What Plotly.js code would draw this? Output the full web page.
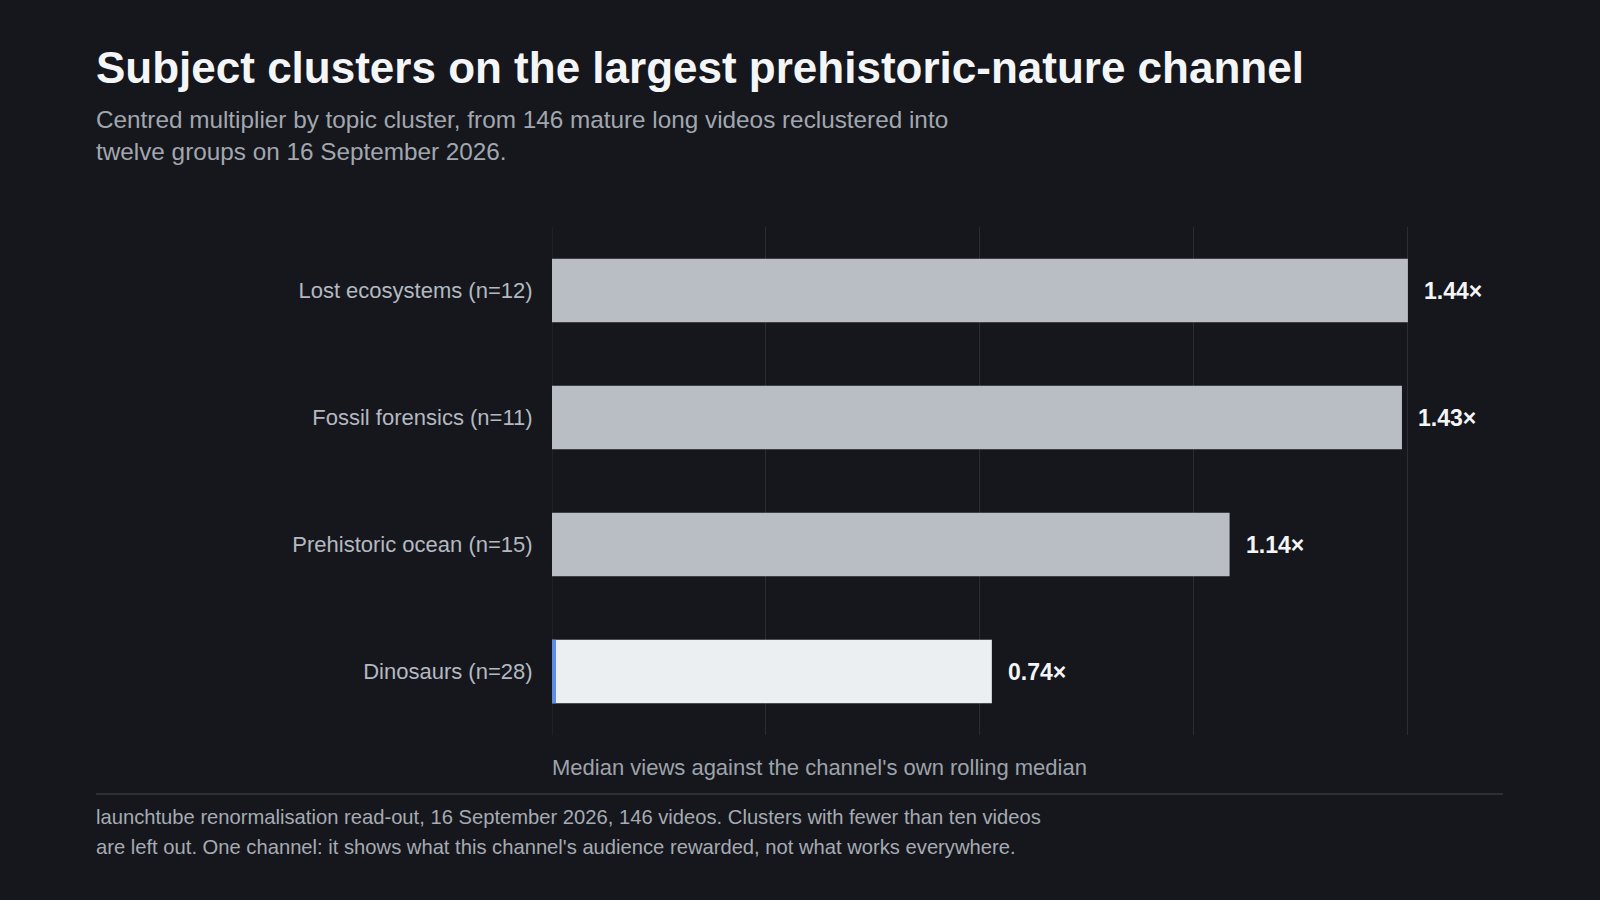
<!DOCTYPE html>
<html>
<head>
<meta charset="utf-8">
<script src="https://cdn.plot.ly/plotly-3.0.1.min.js"></script>
<style>
  html, body { margin: 0; padding: 0; background: #15171c; }
  #chart { width: 1600px; height: 900px; }
</style>
</head>
<body>
<div id="chart"></div>
<script>
// data
const clusters = [
  "Lost ecosystems (n=12)",
  "Fossil forensics (n=11)",
  "Prehistoric ocean (n=15)",
  "Dinosaurs (n=28)",
];
const multipliers = [1.44, 1.43, 1.14, 0.74];
const highlighted = [false, false, false, true];
const gridValues = [0, 0.36, 0.72, 1.08, 1.44];

const bg = "#15171c";
const barGrey = "#b9bdc4";
const barHighlight = "#eceff2";
const accentBlue = "#5b8fe6";
const gridColor = "#2a2d33";
const font = "Liberation Sans, Arial, sans-serif";

// plot area in pixels: left 552, right 1503, top 227, bottom 735
const plotTop = 227;
const plotBottom = 735;
const plotH = plotBottom - plotTop;
const plotL = 552;
const plotW = 951;
const py = (pix) => (plotBottom - pix) / plotH; // pixel row -> paper y
const px = (pix) => (pix - plotL) / plotW; // pixel col -> paper x

const bars = {
  type: "bar",
  orientation: "h",
  x: multipliers,
  y: clusters,
  marker: {
    color: highlighted.map((h) => (h ? barHighlight : barGrey)),
    line: { width: 0 },
  },
  hoverinfo: "skip",
};

const valueLabels = multipliers.map((v, i) => ({
  x: v,
  y: clusters[i],
  xref: "x",
  yref: "y",
  text: v.toFixed(2) + "×",
  showarrow: false,
  xanchor: "left",
  yanchor: "middle",
  xshift: 14,
  font: { family: font, size: 23, color: "#f4f5f7", weight: 700 },
}));

const textNotes = [
  { y: 68, text: "<b>Subject clusters on the largest prehistoric-nature channel</b>", size: 44, color: "#f4f5f7" },
  { y: 120, text: "Centred multiplier by topic cluster, from 146 mature long videos reclustered into", size: 24.3, color: "#a2a7af" },
  { y: 151, text: "twelve groups on 16 September 2026.", size: 24.3, color: "#a2a7af" },
  { y: 817, text: "launchtube renormalisation read-out, 16 September 2026, 146 videos. Clusters with fewer than ten videos", size: 20.2, color: "#a6abb3" },
  { y: 847, text: "are left out. One channel: it shows what this channel's audience rewarded, not what works everywhere.", size: 20.2, color: "#a6abb3" },
].map((n) => ({
  xref: "paper",
  yref: "paper",
  x: px(94),
  y: py(n.y),
  xanchor: "left",
  yanchor: "middle",
  text: n.text,
  showarrow: false,
  font: { family: font, size: n.size, color: n.color },
}));

// axis caption sits left-aligned under the plot
textNotes.push({
  xref: "paper",
  yref: "paper",
  x: px(550),
  y: py(768),
  xanchor: "left",
  yanchor: "middle",
  text: "Median views against the channel's own rolling median",
  showarrow: false,
  font: { family: font, size: 22, color: "#9ea3ab" },
});

const shapes = [
  // divider above the footnote
  {
    type: "line",
    xref: "paper",
    yref: "paper",
    x0: px(96),
    x1: 1,
    y0: py(794),
    y1: py(794),
    line: { color: "#2c2f35", width: 2 },
  },
  // baseline gridline at zero (edge gridlines are not drawn by the axis)
  {
    type: "line",
    xref: "x",
    yref: "paper",
    x0: 0,
    x1: 0,
    y0: 0,
    y1: 1,
    line: { color: gridColor, width: 1 },
    layer: "below",
  },
];

// blue accent on the left edge of the highlighted bar
highlighted.forEach((h, i) => {
  if (!h) return;
  shapes.push({
    type: "rect",
    xref: "x",
    yref: "y",
    xsizemode: "pixel",
    xanchor: 0,
    x0: 0,
    x1: 4,
    y0: i - 0.25,
    y1: i + 0.25,
    fillcolor: accentBlue,
    line: { width: 0 },
  });
});

const layout = {
  width: 1600,
  height: 900,
  paper_bgcolor: bg,
  plot_bgcolor: bg,
  showlegend: false,
  margin: { l: 552, r: 97, t: plotTop, b: 900 - plotBottom },
  bargap: 0.5,
  font: { family: font, color: "#b4b9c1" },
  xaxis: {
    range: [0, 1.6],
    tickvals: gridValues,
    showticklabels: false,
    showgrid: true,
    gridcolor: gridColor,
    gridwidth: 1,
    zeroline: false,
    showline: false,
    fixedrange: true,
  },
  yaxis: {
    autorange: "reversed",
    showgrid: false,
    zeroline: false,
    showline: false,
    ticks: "outside",
    ticklen: 14,
    tickcolor: "rgba(0,0,0,0)",
    tickfont: { family: font, size: 22, color: "#b4b9c1" },
    fixedrange: true,
  },
  annotations: valueLabels.concat(textNotes),
  shapes: shapes,
};

Plotly.newPlot("chart", [bars], layout, { displayModeBar: false, staticPlot: true });
</script>
</body>
</html>
